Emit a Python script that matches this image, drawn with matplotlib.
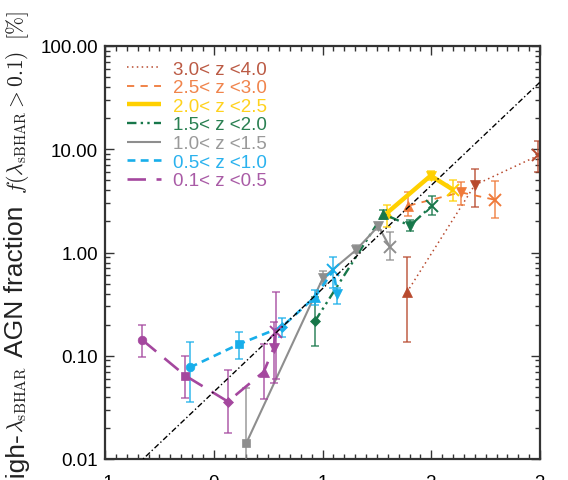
import numpy as np
import matplotlib
matplotlib.use('Agg')
import matplotlib.pyplot as plt
from matplotlib.ticker import MultipleLocator, LogLocator, NullFormatter

plt.rcParams['axes.unicode_minus'] = False
plt.rcParams['font.family'] = ['Liberation Sans', 'DejaVu Sans']

# ---------------- data ----------------
labels = ["3.0< z <4.0", "2.5< z <3.0", "2.0< z <2.5", "1.5< z <2.0",
          "1.0< z <1.5", "0.5< z <1.0", "0.1< z <0.5"]

x_z30 = [1.775, 2.40, 2.985]
f_z30 = [0.41, 4.5, 8.7]
lo_z30 = [0.137, 2.77, 6.0]
hi_z30 = [0.90, 6.5, 12.0]

x_z25 = [1.79, 2.27, 2.585]
f_z25 = [2.84, 3.83, 3.24]
lo_z25 = [2.24, 2.9, 2.14]
hi_z25 = [3.88, 4.8, 4.9]

x_z20 = [1.59, 1.995, 2.20]
f_z20 = [2.40, 5.55, 4.06]
lo_z20 = [1.75, 5.0, 3.18]
hi_z20 = [2.88, 6.1, 5.07]

x_z15 = [0.93, 1.56, 1.805, 2.005]
f_z15 = [0.216, 2.36, 1.82, 2.84]
lo_z15 = [0.125, 2.1, 1.63, 2.31]
hi_z15 = [0.37, 2.6, 2.07, 3.55]

x_z10 = [0.30, 1.005, 1.31, 1.513, 1.62]
f_z10 = [0.0143, 0.57, 1.06, 1.80, 1.13]
lo_z10 = [0.004, 0.49, 0.98, 1.65, 0.85]
hi_z10 = [0.049, 0.66, 1.19, 1.93, 1.57]

x_z05 = [-0.22, 0.235, 0.625, 0.93, 1.10, 1.135]
f_z05 = [0.077, 0.13, 0.19, 0.37, 0.67, 0.40]
lo_z05 = [0.036, 0.093, 0.151, 0.31, 0.45, 0.32]
hi_z05 = [0.137, 0.17, 0.23, 0.43, 0.90, 0.45]

x_z01 = [-0.66, -0.26, 0.13, 0.46, 0.55, 0.57]
f_z01 = [0.143, 0.064, 0.036, 0.070, 0.118, 0.17]
lo_z01 = [0.098, 0.039, 0.018, 0.038, 0.055, 0.06]
hi_z01 = [0.20, 0.10, 0.073, 0.13, 0.21, 0.41]

# reference relation: log10 f = slope * x + intercept
diag_slope = 1.0
diag_intercept = -1.35

xtick_vals = [-1, 0, 1, 2, 3]
xtick_labels = ["-1", "0", "1", "2", "3"]
ytick_vals = [0.01, 0.1, 1, 10, 100]
ytick_labels = ["0.01", "0.10", "1.00", "10.00", "100.00"]

# y-axis label pieces (top to bottom along the rotated label)
ylabel_pieces = [r"$[\%]$", r"$f(\lambda_{\rm sBHAR}>0.1)$", "AGN fraction",
                 r"$\lambda_{\rm sBHAR}$", "high-"]

# ---------------- styles ----------------
series = [
    (x_z30, f_z30, lo_z30, hi_z30),
    (x_z25, f_z25, lo_z25, hi_z25),
    (x_z20, f_z20, lo_z20, hi_z20),
    (x_z15, f_z15, lo_z15, hi_z15),
    (x_z10, f_z10, lo_z10, hi_z10),
    (x_z05, f_z05, lo_z05, hi_z05),
    (x_z01, f_z01, lo_z01, hi_z01),
]
colors = ['#b84a2e', '#ef7a3a', '#ffd000', '#17774a', '#8e8e8e', '#18aeea', '#a4479e']
text_colors = ['#bb5a44', '#f0844c', '#ffd21e', '#2a8052', '#9a9a9a', '#2ab2ee', '#a95ba6']
lws = [1.1, 1.3, 3.2, 1.7, 1.5, 1.9, 1.9]
dashes = [(1, 2.2), (4, 3.5), None, (4, 1.8, 1, 1.8, 1, 1.8), None, (3, 2), (7, 4)]
markers = [
    ['^', 'v', 'x'],
    ['^', 'v', 'x'],
    ['^', 'v', 'x'],
    ['D', '^', 'v', 'x'],
    ['s', 'v', 'v', 'v', 'x'],
    ['o', 's', 'D', '^', 'x', 'v'],
    ['o', 's', 'D', '^', 'v', 'x'],
]
msize = {'o': 6.2, 's': 6.2, 'D': 4.6, '^': 6.8, 'v': 6.8, 'x': 8}

fig = plt.figure(figsize=(5.68, 4.81), dpi=100)
ax = fig.add_axes([105/568, 1-460/481, 435/568, 413/481])
ax.set_yscale('log')
ax.set_xlim(-1, 3)
ax.set_ylim(0.01, 100)

handles = []
for k, (xs, fs, los, his) in enumerate(series):
    c = colors[k]
    z = 2 + 0.2 * k
    if dashes[k] is None:
        ln, = ax.plot(xs, fs, color=c, lw=lws[k], ls='-', zorder=z,
                      solid_capstyle='butt', label=labels[k])
    else:
        ln, = ax.plot(xs, fs, color=c, lw=lws[k], ls='--', dashes=dashes[k],
                      zorder=z, label=labels[k])
    handles.append(ln)
    for i in range(len(xs)):
        m = markers[k][i]
        eb = ax.errorbar([xs[i]], [fs[i]],
                         yerr=[[fs[i] - los[i]], [his[i] - fs[i]]],
                         fmt='none', ecolor=c, elinewidth=1.3, capsize=3,
                         capthick=1.2, zorder=z + 0.05)
        for art in eb.lines[1]:
            art.set_alpha(0.75)
        for art in eb.lines[2]:
            art.set_alpha(0.75)
        ax.plot([xs[i]], [fs[i]], ls='none', marker=m, ms=msize[m],
                mew=1.4 if m == 'x' else 0.5, mec=c, mfc=c, zorder=z + 0.1)

# diagonal reference line
xd = np.array(ax.get_xlim())
ax.plot(xd, 10 ** (diag_slope * xd + diag_intercept), color='black', lw=1.0,
        ls='-.', dashes=(4, 1.8, 1, 1.8), zorder=5)

# ticks
ax.set_xticks(xtick_vals)
ax.set_xticklabels(xtick_labels)
ax.set_yticks(ytick_vals)
ax.set_yticklabels(ytick_labels)
ax.xaxis.set_minor_locator(MultipleLocator(0.1))
ax.yaxis.set_minor_locator(LogLocator(base=10, subs=np.arange(2, 10)))
ax.yaxis.set_minor_formatter(NullFormatter())
ax.tick_params(which='both', direction='in', top=True, right=True,
               color='#333333', width=1.0)
ax.tick_params(which='major', length=6.5)
ax.tick_params(which='minor', length=3.6)
ax.tick_params(axis='y', which='major', labelsize=13.5, pad=5)
ax.tick_params(axis='x', which='major', labelsize=13.5, pad=10.5)
for s in ax.spines.values():
    s.set_linewidth(1.6)
    s.set_color('#333333')

# legend
leg = ax.legend(handles=handles, loc='upper left', bbox_to_anchor=(0.0506, 0.965),
                frameon=False, fontsize=13.5, handlelength=1.8, handletextpad=0.65,
                labelspacing=0.08, borderaxespad=0, borderpad=0)
for t, tc in zip(leg.get_texts(), text_colors):
    t.set_color(tc)

# y label built from pieces: sans words larger than the math parts
W, H = fig.get_size_inches() * fig.dpi
renderer = fig.canvas.get_renderer()
base_x = 23.5          # pixel column of the text baseline
top_px = 11.0          # pixel row where the label ends at the top
piece_sizes = [15.5, 15.5, 19.0, 16.0, 19.0]
piece_gaps = [10, 12, 9, 0, 0]
for piece, size, gap in zip(ylabel_pieces, piece_sizes, piece_gaps):
    t = fig.text(base_x / W, 1 - top_px / H, piece, rotation=90,
                 rotation_mode='anchor', ha='right', va='baseline',
                 fontsize=size, color='#222222', math_fontfamily='cm')
    bb = t.get_window_extent(renderer)
    top_px = (H - bb.y0) + gap

fig.savefig('out.png', dpi=100)
